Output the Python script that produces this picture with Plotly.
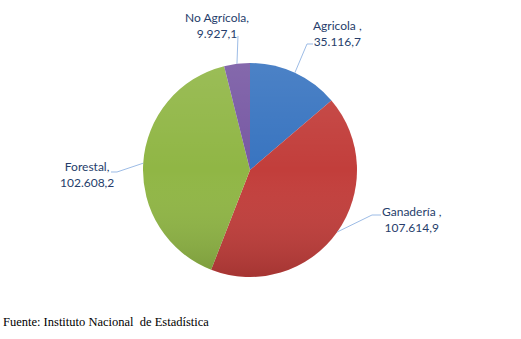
import math
import base64
import plotly.graph_objects as go

# Superficie por uso de la tierra
categorias = ["Agricola", "Ganadería", "Forestal", "No Agrícola"]
valores = [35116.7, 107614.9, 102608.2, 9927.1]
etiquetas = ["Agricola ,", "Ganadería ,", "Forestal,", "No Agrícola,"]
colores = ["#3874c0", "#c23e3b", "#90b645", "#7758a3"]

W, H = 521, 339
CX, CY, R = 250, 170, 107  # pie centre and radius in pixels


def fmt_es(v):
    s = f"{v:,.1f}"
    return s.replace(",", "X").replace(".", ",").replace("X", ".")


def px(x, y):
    return x / W, 1 - y / H


fig = go.Figure()
fig.add_trace(go.Pie(
    labels=categorias,
    values=valores,
    sort=False,
    direction="clockwise",
    rotation=0,
    marker=dict(colors=colores, line=dict(width=0)),
    textinfo="none",
    hoverinfo="label+value",
    showlegend=False,
    domain=dict(x=[(CX - R) / W, (CX + R) / W], y=[1 - (CY + R) / H, 1 - (CY - R) / H]),
))

# soft vertical shading over the disc (lighter at top, darker at bottom)
svg = (
    '<svg xmlns="http://www.w3.org/2000/svg" width="200" height="200" viewBox="0 0 200 200">'
    '<defs><linearGradient id="g" x1="0" y1="0" x2="0" y2="1">'
    '<stop offset="0" stop-color="#ffffff" stop-opacity="0.10"/>'
    '<stop offset="0.5" stop-color="#ffffff" stop-opacity="0"/>'
    '<stop offset="1" stop-color="#000000" stop-opacity="0.15"/>'
    '</linearGradient></defs>'
    '<circle cx="100" cy="100" r="100" fill="url(#g)"/></svg>'
)
shade = "data:image/svg+xml;base64," + base64.b64encode(svg.encode()).decode()

# label placement (text centre) and leader-line elbows, in pixels
label_pos = [(337, 33), (412, 219), (87, 175), (217, 26)]
elbows = [[(307, 44), (313, 44)], [(372, 215), (381, 215)],
          [(117, 172), (111, 172)], [(238, 36)]]

total = sum(valores)
acc = 0.0
shapes, annotations = [], []
for i, v in enumerate(valores):
    mid = (acc + v / 2) / total * 2 * math.pi
    acc += v
    ex = CX + R * math.sin(mid)
    ey = CY - R * math.cos(mid)
    pts = [(ex, ey)] + elbows[i]
    path = "M " + " L ".join(f"{px(x, y)[0]:.5f},{px(x, y)[1]:.5f}" for x, y in pts)
    shapes.append(dict(type="path", xref="paper", yref="paper", path=path,
                       line=dict(color="#9dbce6", width=1)))
    lx, ly = px(*label_pos[i])
    annotations.append(dict(
        x=lx, y=ly, xref="paper", yref="paper", showarrow=False,
        text=f"{etiquetas[i]}<br>{fmt_es(v)}", align="center",
        xanchor="center", yanchor="middle",
        font=dict(family="Lato, Open Sans, sans-serif", size=12, color="#263d6b"),
    ))

annotations.append(dict(
    x=1 / W, y=1 - 322 / H, xref="paper", yref="paper", showarrow=False,
    xanchor="left", yanchor="middle",
    text="Fuente: Instituto Nacional&nbsp; de Estadística",
    font=dict(family="'Liberation Serif', 'DejaVu Serif', serif", size=12.5, color="#000000"),
))

fig.update_layout(
    width=W, height=H,
    margin=dict(l=0, r=0, t=0, b=0),
    paper_bgcolor="white", plot_bgcolor="white",
    shapes=shapes, annotations=annotations,
    images=[dict(source=shade, xref="paper", yref="paper",
                 x=(CX - R) / W, y=1 - (CY - R) / H,
                 sizex=2 * R / W, sizey=2 * R / H,
                 xanchor="left", yanchor="top",
                 sizing="stretch", layer="above")],
)

fig.write_html("out.html")
